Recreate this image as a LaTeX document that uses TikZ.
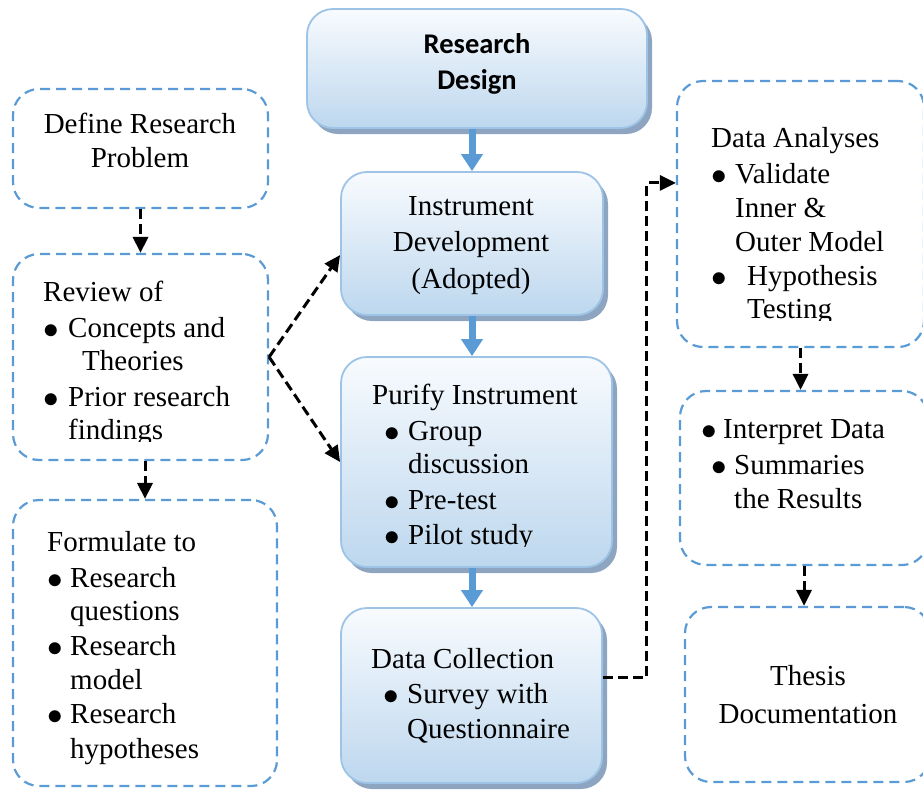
\documentclass[tikz,border=0pt]{standalone}
\usepackage{fontspec}
\setmainfont{Liberation Serif}
\newfontfamily\headfont{Carlito}
\usetikzlibrary{arrows.meta,shadows}

\definecolor{boxline}{HTML}{9DC3E6}
\definecolor{boxtop}{HTML}{F8FBFE}
\definecolor{boxbot}{HTML}{BDD7EE}
\definecolor{shade}{HTML}{8DA5C0}
\definecolor{dashblue}{HTML}{5B9BD5}
\definecolor{flowblue}{HTML}{5B9BD5}

% list bullet with a fixed box width
\newcommand\bul[1][24pt]{\makebox[#1][l]{\raisebox{-1.8pt}{\smash{\scalebox{1.25}{$\bullet$}}}}}

\tikzset{
  mainbox/.style={rectangle, rounded corners=26pt, draw=boxline, line width=1.8pt,
    top color=boxtop, bottom color=boxbot,
    drop shadow={shadow xshift=5pt, shadow yshift=-6pt, fill=shade, opacity=1, draw=none}},
  dbox/.style={rectangle, rounded corners=26pt, draw=dashblue, line width=2.2pt,
    dash pattern=on 10pt off 6pt},
  flow/.style={draw=flowblue, line width=7pt, -{Triangle[length=17pt,width=21pt]}},
  link/.style={draw=black, line width=3pt, dash pattern=on 10pt off 5pt,
    -{Triangle[length=16pt,width=15pt]}},
  txt/.style={inner sep=0pt, anchor=base west, font=\fontsize{29}{35}\selectfont},
  ctxt/.style={txt, anchor=base},
  head/.style={inner sep=0pt, anchor=base, font=\headfont\bfseries\fontsize{28.5}{34}\selectfont}
}

\begin{document}
\begin{tikzpicture}[x=1pt, y=-1pt]
\path[use as bounding box, clip] (0,0) rectangle (923,793);

% central column of shaded steps
\node[mainbox, minimum width=340pt, minimum height=119pt] (design)  at (477,68.5) {};
\node[mainbox, minimum width=262pt, minimum height=143pt] (instr)   at (472,243.5) {};
\node[mainbox, minimum width=271pt, minimum height=210pt] (purify)  at (476.5,462) {};
\node[mainbox, minimum width=261pt, minimum height=175pt] (collect) at (471.5,695.5) {};

% left column
\node[dbox, minimum width=255pt, minimum height=119pt] (define)    at (140.5,148.5) {};
\node[dbox, minimum width=255pt, minimum height=206pt] (review)    at (140.5,357) {};
\node[dbox, minimum width=264pt, minimum height=286pt] (formulate) at (145,643) {};

% right column
\node[dbox, minimum width=247pt, minimum height=266pt] (analyses)  at (800.5,214) {};
\node[dbox, minimum width=248pt, minimum height=174pt] (interpret) at (804,478) {};
\node[dbox, minimum width=245pt, minimum height=175pt] (thesis)    at (807.5,694.5) {};

% main flow
\draw[flow] (instr.north |- design.south) -- (instr.north);
\draw[flow] (instr.south) -- (instr.south |- purify.north);
\draw[flow] (instr.south |- purify.south) -- (instr.south |- collect.north);

% dashed links
\draw[link] (define.south) -- (review.north);
\draw[link] (formulate.north |- review.south) -- (formulate.north);
\draw[link] (review.east) -- (instr.185);
\draw[link] (review.east) -- (purify.west);
\draw[link] (collect.8) -- ++(44,0) |- (analyses.166);
\draw[link] (analyses.south) -- (analyses.south |- interpret.north);
\draw[link] (interpret.south) -- (interpret.south |- thesis.north);

% texts of the central column
\node[head] (design-1) at (477,53) {Research};
\node[head] (design-2) at (477,89) {Design};

\node[ctxt] (instr-1) at (471,215) {Instrument};
\node[ctxt] (instr-2) at (471,251.5) {Development};
\node[ctxt] (instr-3) at (471,288) {(Adopted)};

\node[txt] (purify-1) at (372,404) {Purify Instrument};
\node[txt] (purify-2) at (384,440) {\bul Group};
\node[txt] (purify-3) at (408,473) {discussion};
\node[txt] (purify-4) at (384,509) {\bul Pre-test};
\begin{scope}
  \clip (300,500) rectangle (620,546);
  \node[txt] (purify-5) at (384,544) {\bul Pilot study};
\end{scope}

\node[txt] (collect-1) at (371,668) {Data Collection};
\node[txt] (collect-2) at (383,703) {\bul Survey with};
\node[txt] (collect-3) at (407,738) {Questionnaire};

% texts of the left column
\node[ctxt] (define-1) at (140,133) {Define Research};
\node[ctxt] (define-2) at (140,167) {Problem};

\node[txt] (review-1) at (43,301) {Review of};
\node[txt] (review-2) at (43,337) {\bul[25pt]Concepts and};
\node[txt] (review-3) at (82,370) {Theories};
\node[txt] (review-4) at (43,406) {\bul[25pt]Prior research};
\begin{scope}
  \clip (20,400) rectangle (260,441);
  \node[txt] (review-5) at (68,439) {findings};
\end{scope}

\node[txt] (form-1) at (47,551) {Formulate to};
\node[txt] (form-2) at (47,587) {\bul[23pt]Research};
\node[txt] (form-3) at (70,620) {questions};
\node[txt] (form-4) at (47,655) {\bul[23pt]Research};
\node[txt] (form-5) at (70,689) {model};
\node[txt] (form-6) at (47,723) {\bul[23pt]Research};
\node[txt] (form-7) at (70,758) {hypotheses};

% texts of the right column
\node[txt] (anal-1) at (711,147) {Data Analyses};
\node[txt] (anal-2) at (711,183) {\bul Validate};
\node[txt] (anal-3) at (735,217) {Inner \&};
\node[txt] (anal-4) at (735,251) {Outer Model};
\node[txt] (anal-5) at (711,285) {\bul[36pt]Hypothesis};
\begin{scope}
  \clip (690,290) rectangle (920,320);
  \node[txt] (anal-6) at (747,318) {Testing};
\end{scope}

\node[txt] (interp-1) at (701,438) {\bul[22pt]Interpret Data};
\node[txt] (interp-2) at (711,474) {\bul[23pt]Summaries};
\node[txt] (interp-3) at (734,508) {the Results};

\node[ctxt] (thesis-1) at (808,685) {Thesis};
\node[ctxt] (thesis-2) at (808,723) {Documentation};
\end{tikzpicture}
\end{document}
